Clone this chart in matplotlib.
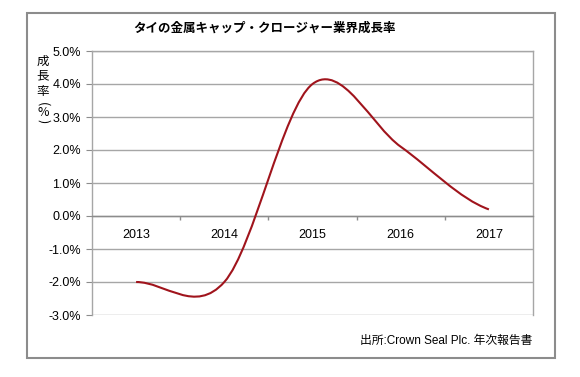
import matplotlib
matplotlib.use("Agg")
import matplotlib.pyplot as plt
from matplotlib.path import Path
from matplotlib.patches import PathPatch, Rectangle
from matplotlib.ticker import FixedLocator, FuncFormatter

# data
years = ["2013", "2014", "2015", "2016", "2017"]
growth = [-2.0, -2.0, 4.0, 2.1, 0.2]
yticks = [-3.0, -2.0, -1.0, 0.0, 1.0, 2.0, 3.0, 4.0, 5.0]

title = "タイの金属キャップ・クロージャー業界成長率"
ylabel_chars = ["成", "長", "率", "(", "%", ")"]
source = "出所:Crown Seal Plc. 年次報告書"

FONT = ["Liberation Sans", "Noto Sans CJK JP", "DejaVu Sans"]
plt.rcParams["font.family"] = FONT
W, H = 580, 377

fig = plt.figure(figsize=(5.8, 3.77), dpi=100)
ax = fig.add_axes([92 / W, 1 - 315 / H, (533 - 92) / W, (315 - 51) / H])

# Excel-style smoothed line: Catmull-Rom tangents turned into cubic Bezier segments
xs = list(range(len(growth)))
n = len(growth)
tang = []
for i in range(n):
    a = growth[max(i - 1, 0)]
    b = growth[min(i + 1, n - 1)]
    tang.append((b - a) / 2)
verts = [(xs[0], growth[0])]
codes = [Path.MOVETO]
for i in range(n - 1):
    verts += [(xs[i] + 1 / 3, growth[i] + tang[i] / 3),
              (xs[i + 1] - 1 / 3, growth[i + 1] - tang[i + 1] / 3),
              (xs[i + 1], growth[i + 1])]
    codes += [Path.CURVE4] * 3
ax.add_patch(PathPatch(Path(verts, codes), fill=False, edgecolor="#a0141c",
                       lw=1.5, zorder=3, capstyle="butt"))

ax.set_xlim(-0.5, n - 0.5)
ax.set_ylim(yticks[0], yticks[-1])
ax.set_yticks(yticks)
ax.yaxis.set_major_formatter(FuncFormatter(lambda v, p: f"{v:.1f}%"))
ax.grid(axis="y", color="#a6a6a6", lw=1.0)
ax.set_axisbelow(True)

ax.set_xticks(xs)
ax.set_xticklabels(years)
ax.xaxis.set_minor_locator(FixedLocator([i + 0.5 for i in xs[:-1]]))
ax.tick_params(axis="x", which="major", length=0, pad=9, labelsize=9)
ax.tick_params(axis="x", which="minor", length=3, direction="out", color="#8c8c8c", width=1)
ax.tick_params(axis="y", length=4, color="#8c8c8c", labelsize=9, pad=4)

for s in ax.spines.values():
    s.set_color("#a6a6a6")
    s.set_linewidth(1.0)
ax.spines["bottom"].set_position(("data", 0))
ax.spines["bottom"].set_color("#8c8c8c")

# chart frame
fig.add_artist(Rectangle((27 / W, 1 - 358 / H), (555 - 27) / W, (358 - 13) / H,
                         transform=fig.transFigure, fill=False,
                         edgecolor="#8c8c8c", lw=1.5))

fig.text(265 / W, 1 - 28 / H, title, ha="center", va="center",
         fontsize=9, fontweight="bold", family=["Noto Sans CJK JP", "DejaVu Sans"])

# vertical axis title, one character per line, brackets turned sideways
ylab_y = [61, 76, 91, 104, 112, 121]
for ch, yy in zip(ylabel_chars, ylab_y):
    rot = 270 if ch in "()" else 0
    fig.text(43 / W, 1 - yy / H, ch, ha="center", va="center", fontsize=9,
             rotation=rot, family=["Noto Sans CJK JP", "DejaVu Sans"])

fig.text(532 / W, 1 - 341 / H, source, ha="right", va="center", fontsize=8.5)

fig.savefig("out.png", dpi=100)
